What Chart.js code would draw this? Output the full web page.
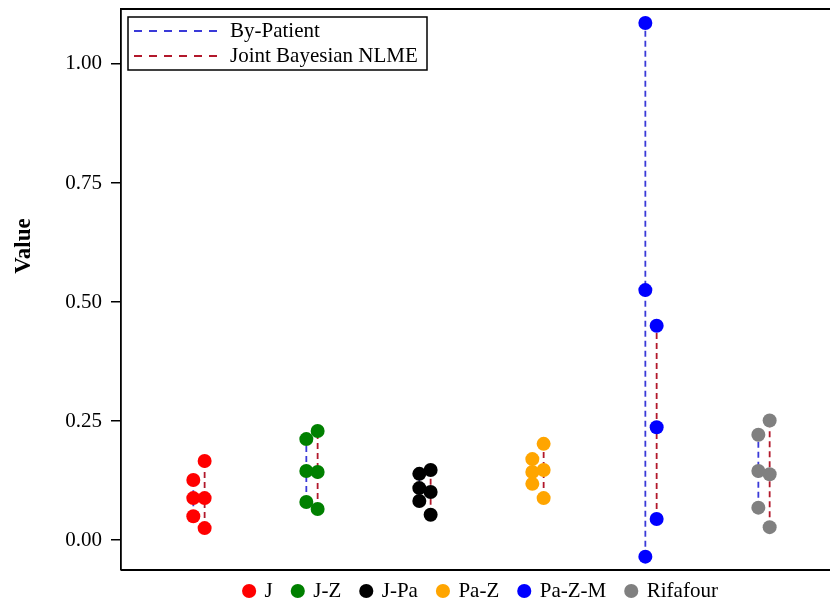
<!DOCTYPE html>
<html>
<head>
<meta charset="utf-8">
<script src="https://cdn.jsdelivr.net/npm/chart.js@4"></script>
<style>
  html, body { margin: 0; padding: 0; background: #fff; }
  #wrap { width: 830px; height: 604px; }
</style>
</head>
<body>
<div id="wrap"><canvas id="chart" width="830" height="604"></canvas></div>
<script>
// regimens, one column pair each
const groups = ['J', 'J-Z', 'J-Pa', 'Pa-Z', 'Pa-Z-M', 'Rifafour'];
const groupColors = ['#ff0000', '#008000', '#000000', '#ffa500', '#0000ff', '#808080'];

// By-Patient estimates (high / mid / low)
const bpHigh = [0.126, 0.212, 0.139, 0.170, 1.086, 0.221];
const bpMid  = [0.088, 0.145, 0.109, 0.143, 0.525, 0.145];
const bpLow  = [0.050, 0.080, 0.082, 0.118, -0.035, 0.068];

// Joint Bayesian NLME estimates (high / mid / low)
const jbHigh = [0.166, 0.229, 0.147, 0.202, 0.450, 0.251];
const jbMid  = [0.088, 0.143, 0.101, 0.147, 0.237, 0.138];
const jbLow  = [0.025, 0.065, 0.053, 0.088, 0.044, 0.027];

const yTicks = [0, 0.25, 0.5, 0.75, 1.0];

const FONT = '"Liberation Serif", "Times New Roman", serif';
const BLUE = '#3a3ad8';
const RED = '#b2182b';
const shift = 0.05;

function rangeLine(lows, highs, dx) {
    const pts = [];
    lows.forEach((lo, i) => {
        pts.push({ x: i + dx, y: lo });
        pts.push({ x: i + dx, y: highs[i] });
        pts.push({ x: i + dx, y: null });
    });
    return pts;
}

const datasets = [
    {
        label: 'By-Patient',
        data: rangeLine(bpLow, bpHigh, -shift),
        showLine: true, spanGaps: false,
        borderColor: BLUE, borderWidth: 1.8, borderDash: [6, 4],
        pointRadius: 0, order: 2
    },
    {
        label: 'Joint Bayesian NLME',
        data: rangeLine(jbLow, jbHigh, shift),
        showLine: true, spanGaps: false,
        borderColor: RED, borderWidth: 1.8, borderDash: [6, 4],
        pointRadius: 0, order: 2
    }
];

groups.forEach((g, i) => {
    datasets.push({
        label: g,
        data: [
            { x: i - shift, y: bpHigh[i] }, { x: i - shift, y: bpMid[i] }, { x: i - shift, y: bpLow[i] },
            { x: i + shift, y: jbHigh[i] }, { x: i + shift, y: jbMid[i] }, { x: i + shift, y: jbLow[i] }
        ],
        showLine: false,
        backgroundColor: groupColors[i],
        borderColor: groupColors[i],
        pointRadius: 7, pointBorderWidth: 0,
        order: 1
    });
});

// frame, y title and inner legend for the two estimation methods
const framePlugin = {
    id: 'frame',
    afterLayout(chart) {
        // pull the bottom legend row up a little and centre it under the
        // (wider than the canvas) plot panel
        const lg = chart.legend;
        const a = chart.chartArea;
        const dx = (a.left + (a.left + 2 * 360)) / 2 - (lg.left + lg.right) / 2;
        lg.left += dx; lg.right += dx;
        lg.top -= 9.5; lg.bottom -= 9.5;
    },
    afterDraw(chart) {
        const { ctx, chartArea: a } = chart;
        ctx.save();
        ctx.strokeStyle = '#000';
        ctx.lineWidth = 1.8;
        ctx.beginPath();
        ctx.moveTo(a.left, a.top); ctx.lineTo(a.right, a.top);
        ctx.moveTo(a.left, a.bottom); ctx.lineTo(a.right, a.bottom);
        ctx.stroke();

        // axis title, sits a bit above the middle like the original
        ctx.save();
        ctx.translate(a.left - 97, a.top + 237);
        ctx.rotate(-Math.PI / 2);
        ctx.font = 'bold 23px ' + FONT;
        ctx.fillStyle = '#000';
        ctx.textAlign = 'center';
        ctx.textBaseline = 'middle';
        ctx.fillText('Value', 0, 0);
        ctx.restore();

        const bx = a.left + 7, by = a.top + 8;
        ctx.lineWidth = 1.5;
        ctx.strokeRect(bx, by, 299, 53);
        const rows = [['By-Patient', BLUE], ['Joint Bayesian NLME', RED]];
        ctx.font = '21px ' + FONT;
        ctx.textBaseline = 'middle';
        rows.forEach(([txt, col], k) => {
            const yy = by + 14 + k * 25;
            ctx.strokeStyle = col;
            ctx.lineWidth = 1.8;
            ctx.setLineDash([8, 7]);
            ctx.beginPath();
            ctx.moveTo(bx + 6, yy); ctx.lineTo(bx + 92, yy);
            ctx.stroke();
            ctx.setLineDash([]);
            ctx.fillStyle = '#000';
            ctx.fillText(txt, bx + 102, yy);
        });
        ctx.restore();
    }
};

new Chart(document.getElementById('chart'), {
    type: 'scatter',
    data: { datasets },
    plugins: [framePlugin],
    options: {
        responsive: false,
        animation: false,
        layout: { autoPadding: false, padding: { top: 9, right: 0, left: 0, bottom: -17 } },
        plugins: {
            tooltip: { enabled: false },
            legend: {
                position: 'bottom',
                labels: {
                    usePointStyle: true,
                    boxWidth: 10, boxHeight: 10,
                    padding: 20,
                    color: '#000',
                    font: { family: FONT, size: 21 },
                    generateLabels: () => groups.map((g, i) => ({
                        text: g,
                        fillStyle: groupColors[i],
                        strokeStyle: groupColors[i],
                        lineWidth: 0,
                        pointStyle: 'circle',
                        datasetIndex: i + 2
                    }))
                },
                onClick: () => {}
            }
        },
        scales: {
            x: {
                type: 'linear',
                display: false,
                min: -0.69, max: 5.584
            },
            y: {
                min: -0.063, max: 1.1155,
                afterBuildTicks: (s) => { s.ticks = yTicks.map(v => ({ value: v })); },
                afterFit: (s) => { s.width = 121; s.paddingTop = 0; s.paddingBottom = 0; },
                ticks: {
                    color: '#000',
                    font: { family: FONT, size: 21 },
                    padding: 9,
                    callback: (v) => Number(v).toFixed(2)
                },
                grid: {
                    drawOnChartArea: false,
                    drawTicks: true,
                    tickLength: 10,
                    color: '#000',
                    lineWidth: 1.5
                },
                border: { display: true, color: '#000', width: 1.8 }
            }
        }
    }
});
</script>
</body>
</html>
